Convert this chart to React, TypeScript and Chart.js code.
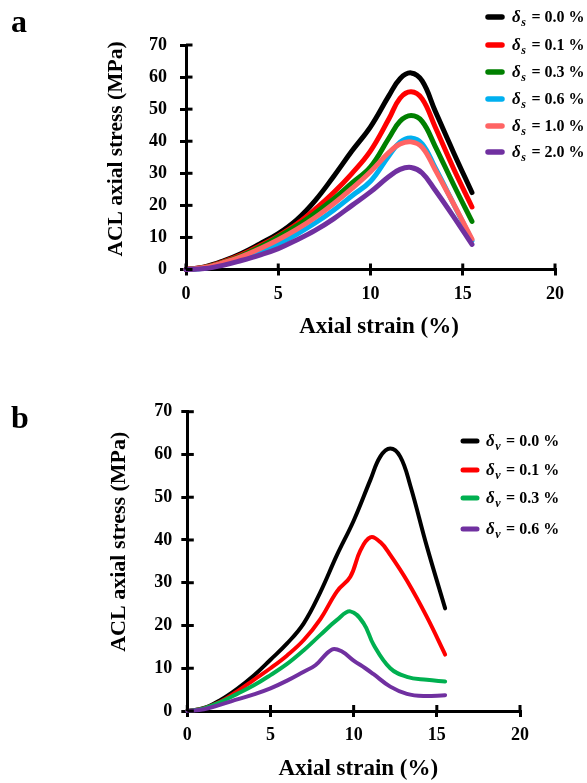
import React, { useEffect, useRef } from "react";
import { Chart, registerables } from "chart.js";
Chart.register(...registerables);

const FONT = "'Liberation Serif', 'Times New Roman', serif";

// ---------- Panel a (δs) ----------
const strainA = [0, 1, 2, 3, 4, 5, 6, 7, 8, 9, 10, 11, 11.6, 12.2, 12.8, 13.5, 14.5, 15.5];
const stressA_s00 = [0, 0.8, 2.6, 5, 8, 11.2, 15.5, 21.5, 29, 37, 44.5, 54.2, 59.5, 61.3, 58.8, 49.5, 36.5, 24];
const stressA_s01 = [0, 0.7, 2.4, 4.6, 7.4, 10.5, 14.2, 18.8, 24, 30, 37, 47, 53.4, 55.4, 53.2, 44.5, 31.5, 19.5];
const stressA_s03 = [0, 0.6, 2.2, 4.3, 7, 10.2, 13.6, 17.6, 22, 27, 32, 41, 46.2, 48, 46.2, 38.5, 26.5, 15];
const stressA_s06 = [0, 0.4, 1.6, 3.3, 5.5, 8, 11, 14.5, 18.5, 23, 27.5, 35.5, 39.7, 41, 39.2, 31.8, 20.5, 9];
const stressA_s10 = [0, 0.6, 2.1, 4, 6.5, 9.3, 12.5, 16.2, 20.5, 25.3, 30.5, 36.5, 39.1, 39.8, 38.1, 31.2, 20.5, 9.5];
const stressA_s20 = [0, 0.3, 1.3, 2.8, 4.5, 6.5, 9.2, 12.2, 15.8, 20, 24.2, 29, 31.2, 31.8, 30.1, 24.8, 16.5, 7.8];
const legendA = ["0.0", "0.1", "0.3", "0.6", "1.0", "2.0"];
const colorsA = ["#000000", "#ff0000", "#008000", "#00b0f0", "#ff6464", "#7030a0"];

// ---------- Panel b (δv) ----------
const strainB_v00 = [0, 1, 2, 3, 4, 5, 6, 7, 8, 9, 10, 11, 11.6, 12.2, 12.8, 13.4, 14.4, 15.5];
const stressB_v00 = [0, 0.7, 2.6, 5.2, 8.3, 12, 15.8, 20.5, 27.8, 36.5, 44.5, 54, 59.5, 61.4, 59.5, 52.8, 38.5, 24];
const strainB_v01 = [0, 1, 2, 3, 4, 5, 6, 7, 8, 9, 9.8, 10.4, 11, 11.6, 12.2, 13.2, 14.4, 15.5];
const stressB_v01 = [0, 0.6, 2.2, 4.6, 7.3, 10, 13, 16.6, 21.5, 28, 31.4, 37.5, 40.6, 39.5, 36.5, 30.5, 22, 13.2];
const strainB_v03 = [0, 1, 2, 3, 4, 5, 6, 7, 8, 9, 9.8, 10.6, 11.2, 12.2, 13.2, 14.4, 15.5];
const stressB_v03 = [0, 0.6, 2.1, 4, 6, 8.4, 11, 14.2, 17.8, 21.3, 23.3, 20.5, 15.5, 10, 8, 7.3, 6.9];
const strainB_v06 = [0, 1, 2, 3, 4, 5, 6, 7, 7.7, 8.7, 9.3, 10, 10.7, 11.2, 12.2, 13.2, 14.2, 15.5];
const stressB_v06 = [0, 0.4, 1.5, 2.7, 3.9, 5.3, 7.1, 9.2, 10.7, 14.4, 13.9, 11.8, 10, 8.6, 5.7, 4, 3.5, 3.7];
const legendB = ["0.0", "0.1", "0.3", "0.6"];
const colorsB = ["#000000", "#ff0000", "#00b050", "#7030a0"];

const xTickValues = [0, 5, 10, 15, 20];
const yTickValues = [0, 10, 20, 30, 40, 50, 60, 70];
const yTitle = "ACL axial stress (MPa)";
const xTitle = "Axial strain (%)";

type PanelCfg = {
  letter: string;
  canvasTop: number;
  canvasH: number;
  plot: { left: number; top: number; right: number; bottom: number };
  tickPadY: number;
  tickPadX: number;
  yTitlePos: { x: number; y: number; size: number };
  xTitlePos: { x: number; y: number; size: number };
  letterPos: { x: number; y: number };
  legend: { x0: number; x1: number; tx: number; rows: number[]; sub: string; lw: number };
  lineWidth: number;
  series: { xs: number[]; ys: number[]; color: string; label: string }[];
};

const panelA: PanelCfg = {
  letter: "a",
  canvasTop: 0,
  canvasH: 350,
  plot: { left: 186, top: 45, right: 555, bottom: 269.5 },
  tickPadY: 13,
  tickPadX: 8,
  yTitlePos: { x: 122, y: 149, size: 21.5 },
  xTitlePos: { x: 379, y: 333, size: 23 },
  letterPos: { x: 11, y: 31.5 },
  legend: { x0: 488, x1: 502, tx: 512, rows: [17, 45, 72, 99, 126, 152], sub: "s", lw: 5.5 },
  lineWidth: 5,
  series: [
    { xs: strainA, ys: stressA_s00, color: colorsA[0], label: legendA[0] },
    { xs: strainA, ys: stressA_s01, color: colorsA[1], label: legendA[1] },
    { xs: strainA, ys: stressA_s03, color: colorsA[2], label: legendA[2] },
    { xs: strainA, ys: stressA_s06, color: colorsA[3], label: legendA[3] },
    { xs: strainA, ys: stressA_s10, color: colorsA[4], label: legendA[4] },
    { xs: strainA, ys: stressA_s20, color: colorsA[5], label: legendA[5] },
  ],
};

const panelB: PanelCfg = {
  letter: "b",
  canvasTop: 370,
  canvasH: 413,
  plot: { left: 187.3, top: 411.7, right: 520, bottom: 711 },
  tickPadY: 9,
  tickPadX: 8,
  yTitlePos: { x: 125, y: 541.7, size: 22 },
  xTitlePos: { x: 358.3, y: 775, size: 23 },
  letterPos: { x: 11, y: 428 },
  legend: { x0: 463, x1: 477, tx: 486, rows: [441, 470, 498, 529], sub: "v", lw: 5 },
  lineWidth: 4,
  series: [
    { xs: strainB_v00, ys: stressB_v00, color: colorsB[0], label: legendB[0] },
    { xs: strainB_v01, ys: stressB_v01, color: colorsB[1], label: legendB[1] },
    { xs: strainB_v03, ys: stressB_v03, color: colorsB[2], label: legendB[2] },
    { xs: strainB_v06, ys: stressB_v06, color: colorsB[3], label: legendB[3] },
  ],
};

function overlayPlugin(cfg: PanelCfg) {
  return {
    id: "overlay_" + cfg.letter,
    afterDraw(chart: any) {
      const ctx = chart.ctx as CanvasRenderingContext2D;
      const area = chart.chartArea;
      const xs = chart.scales.x;
      const ys = chart.scales.y;
      const off = cfg.canvasTop;
      ctx.save();
      ctx.strokeStyle = "#000";
      ctx.lineWidth = 3;
      for (const t of xTickValues) {
        const px = xs.getPixelForValue(t);
        ctx.beginPath();
        ctx.moveTo(px, area.bottom);
        ctx.lineTo(px, area.bottom - 6);
        ctx.stroke();
      }
      for (const t of yTickValues) {
        const py = ys.getPixelForValue(t);
        ctx.beginPath();
        ctx.moveTo(area.left, py);
        ctx.lineTo(area.left + 6.5, py);
        ctx.stroke();
      }
      ctx.fillStyle = "#000";
      ctx.textAlign = "center";
      ctx.textBaseline = "alphabetic";
      ctx.font = `bold ${cfg.xTitlePos.size}px ${FONT}`;
      ctx.fillText(xTitle, cfg.xTitlePos.x, cfg.xTitlePos.y - off);
      ctx.save();
      ctx.translate(cfg.yTitlePos.x, cfg.yTitlePos.y - off);
      ctx.rotate(-Math.PI / 2);
      ctx.font = `bold ${cfg.yTitlePos.size}px ${FONT}`;
      ctx.fillText(yTitle, 0, 0);
      ctx.restore();
      ctx.textAlign = "left";
      ctx.font = `bold 32px ${FONT}`;
      ctx.fillText(cfg.letter, cfg.letterPos.x, cfg.letterPos.y - off);
      const L = cfg.legend;
      cfg.series.forEach((s, i) => {
        const ry = L.rows[i] - off;
        ctx.strokeStyle = s.color;
        ctx.lineWidth = L.lw;
        ctx.lineCap = "round";
        ctx.beginPath();
        ctx.moveTo(L.x0, ry);
        ctx.lineTo(L.x1, ry);
        ctx.stroke();
        const base = ry + 5;
        let x = L.tx;
        ctx.fillStyle = "#000";
        ctx.font = `italic bold 17px ${FONT}`;
        ctx.fillText("δ", x, base);
        x += ctx.measureText("δ").width + 0.5;
        ctx.font = `italic bold 12px ${FONT}`;
        ctx.fillText(L.sub, x, base + 4);
        x += ctx.measureText(L.sub).width + 1.5;
        ctx.font = `bold 16px ${FONT}`;
        ctx.fillText(" = " + s.label + " %", x, base);
      });
      ctx.restore();
    },
  };
}

function Panel({ cfg }: { cfg: PanelCfg }) {
  const ref = useRef<HTMLCanvasElement | null>(null);
  useEffect(() => {
    if (!ref.current) return;
    const W = 587;
    const tickFont = { family: FONT, size: 18, weight: "bold" as const };
    const chart = new Chart(ref.current, {
      type: "line",
      data: {
        datasets: cfg.series.map((s, i) => ({
          label: s.label,
          data: s.xs.map((x, j) => ({ x, y: s.ys[j] })),
          borderColor: s.color,
          backgroundColor: s.color,
          borderWidth: cfg.lineWidth,
          pointRadius: 0,
          tension: 0.4,
          borderCapStyle: "round" as const,
          borderJoinStyle: "round" as const,
          fill: false,
          clip: false as any,
          order: -i,
        })),
      },
      options: {
        responsive: false,
        animation: false,
        devicePixelRatio: 1,
        layout: {
          padding: {
            left: 0,
            top: cfg.plot.top - cfg.canvasTop,
            right: W - cfg.plot.right,
            bottom: 0,
          },
        },
        plugins: { legend: { display: false }, tooltip: { enabled: false } },
        scales: {
          x: {
            type: "linear",
            min: 0,
            max: 20,
            ticks: { stepSize: 5, color: "#000", font: tickFont, padding: cfg.tickPadX, maxRotation: 0 },
            grid: { drawOnChartArea: false, drawTicks: true, tickLength: 6, color: "#000", lineWidth: 3 },
            border: { color: "#000", width: 3 },
            afterFit: (s: any) => {
              s.height = cfg.canvasH - (cfg.plot.bottom - cfg.canvasTop);
            },
          },
          y: {
            type: "linear",
            min: 0,
            max: 70,
            ticks: { stepSize: 10, color: "#000", font: tickFont, padding: cfg.tickPadY },
            grid: { drawOnChartArea: false, drawTicks: true, tickLength: 6, color: "#000", lineWidth: 3 },
            border: { color: "#000", width: 3 },
            afterFit: (s: any) => {
              s.width = cfg.plot.left;
            },
          },
        },
      },
      plugins: [overlayPlugin(cfg)],
    });
    return () => chart.destroy();
  }, [cfg]);
  return (
    <canvas
      ref={ref}
      width={587}
      height={cfg.canvasH}
      style={{ position: "absolute", left: 0, top: cfg.canvasTop, width: 587, height: cfg.canvasH }}
    />
  );
}

export default function App() {
  return (
    <div style={{ position: "absolute", left: 0, top: 0, width: 587, height: 783, background: "#fff" }}>
      <Panel cfg={panelA} />
      <Panel cfg={panelB} />
    </div>
  );
}
